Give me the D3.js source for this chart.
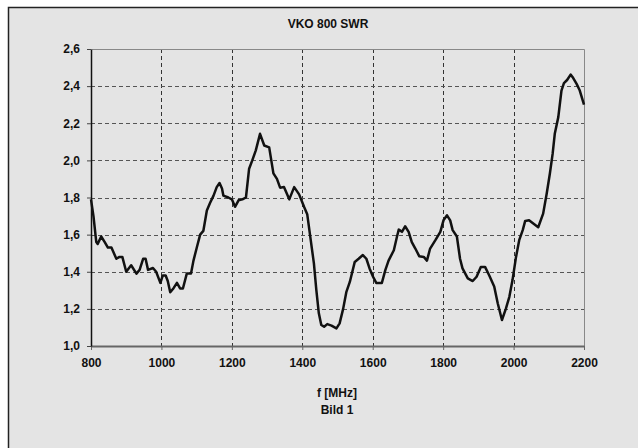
<!DOCTYPE html>
<html>
<head>
<meta charset="utf-8">
<script src="https://cdn.jsdelivr.net/npm/d3@7"></script>
<style>
  body { margin: 0; background: #fff; }
  text { font-family: "Liberation Sans", Arial, sans-serif; font-weight: bold; fill: #111; }
</style>
</head>
<body>
<div class="chart"></div>
<script>
// VKO 800 SWR chart

var freq = [800, 807, 815, 819, 829, 839, 848, 858, 872, 881, 889, 900, 914, 929, 938, 948, 955, 962, 976, 985,
    997, 1004, 1012, 1018, 1025, 1034, 1044, 1053, 1061, 1072, 1084, 1091, 1101, 1110, 1119, 1129, 1138, 1148, 1157, 1165,
    1172, 1176, 1190, 1200, 1209, 1219, 1230, 1240, 1249, 1258, 1268, 1280, 1292, 1306, 1318, 1328, 1337, 1348, 1363, 1377,
    1391, 1405, 1414, 1424, 1433, 1440, 1447, 1454, 1462, 1471, 1483, 1497, 1506, 1516, 1525, 1535, 1549, 1560, 1572, 1582,
    1591, 1601, 1610, 1626, 1636, 1645, 1660, 1669, 1674, 1683, 1692, 1702, 1711, 1721, 1732, 1745, 1754, 1763, 1778, 1792,
    1801, 1811, 1820, 1827, 1839, 1848, 1855, 1870, 1884, 1895, 1907, 1919, 1931, 1945, 1955, 1967, 1978, 1988, 1997, 2007,
    2016, 2026, 2033, 2044, 2056, 2070, 2084, 2094, 2103, 2111, 2117, 2127, 2136, 2143, 2152, 2162, 2169, 2179, 2188, 2200];

var swr = [1.79, 1.70, 1.56, 1.55, 1.59, 1.56, 1.53, 1.53, 1.47, 1.48, 1.48, 1.40, 1.435, 1.39, 1.41, 1.47, 1.47, 1.41, 1.42, 1.40,
    1.34, 1.38, 1.38, 1.35, 1.29, 1.31, 1.34, 1.31, 1.31, 1.39, 1.39, 1.46, 1.535, 1.60, 1.62, 1.73, 1.77, 1.81, 1.856, 1.878,
    1.848, 1.81, 1.80, 1.79, 1.75, 1.785, 1.79, 1.80, 1.955, 2.0, 2.054, 2.143, 2.08, 2.07, 1.93, 1.90, 1.853, 1.856, 1.79, 1.856,
    1.817, 1.75, 1.71, 1.57, 1.445, 1.30, 1.176, 1.113, 1.104, 1.118, 1.11, 1.095, 1.122, 1.20, 1.29, 1.345, 1.453, 1.47, 1.49, 1.47,
    1.418, 1.373, 1.34, 1.34, 1.41, 1.46, 1.516, 1.59, 1.627, 1.615, 1.645, 1.615, 1.56, 1.525, 1.484, 1.48, 1.46, 1.525, 1.57, 1.615,
    1.677, 1.704, 1.677, 1.624, 1.59, 1.47, 1.418, 1.364, 1.35, 1.373, 1.426, 1.426, 1.38, 1.32, 1.23, 1.14, 1.20, 1.265, 1.355, 1.48,
    1.57, 1.624, 1.674, 1.677, 1.66, 1.64, 1.713, 1.82, 1.928, 2.036, 2.143, 2.233, 2.376, 2.416, 2.433, 2.462, 2.445, 2.412, 2.376, 2.30];

var xTicks = [800, 1000, 1200, 1400, 1600, 1800, 2000, 2200];
var yTicks = [1.0, 1.2, 1.4, 1.6, 1.8, 2.0, 2.2, 2.4, 2.6];

var svgWidth = 638;
var svgHeight = 448;

var margin = { top: 49, right: 54, bottom: 102, left: 91 };
var width = svgWidth - margin.left - margin.right;
var height = svgHeight - margin.top - margin.bottom;

var svg = d3.select(".chart")
    .append("svg")
    .attr("width", svgWidth)
    .attr("height", svgHeight);

// outer frame (runs off the right and bottom edge)
svg.append("rect")
    .attr("x", 8.5)
    .attr("y", 7.5)
    .attr("width", 640)
    .attr("height", 450)
    .attr("fill", "#e4e4e4")
    .attr("stroke", "#222")
    .attr("stroke-width", 1.5);

var chart = svg.append("g")
    .attr("transform", "translate(" + margin.left + "," + margin.top + ")");

var xScale = d3.scaleLinear().domain([800, 2200]).range([0, width]);
var yScale = d3.scaleLinear().domain([1.0, 2.6]).range([height, 0]);

// grid lines
chart.selectAll(".vgrid")
    .data(xTicks.slice(1, -1))
    .enter()
    .append("line")
    .attr("x1", function(d) { return Math.round(xScale(d)) + 0.5; })
    .attr("x2", function(d) { return Math.round(xScale(d)) + 0.5; })
    .attr("y1", 0)
    .attr("y2", height)
    .attr("stroke", "#333")
    .attr("stroke-dasharray", "4,3");

chart.selectAll(".hgrid")
    .data(yTicks.slice(1, -1))
    .enter()
    .append("line")
    .attr("x1", 0)
    .attr("x2", width)
    .attr("y1", function(d) { return Math.round(yScale(d)) + 0.5; })
    .attr("y2", function(d) { return Math.round(yScale(d)) + 0.5; })
    .attr("stroke", "#555")
    .attr("stroke-dasharray", "4,3");

// top and right border of the plot area
chart.append("path")
    .attr("d", "M0.5,0.5H" + (width + 0.5) + "V" + height)
    .attr("fill", "none")
    .attr("stroke", "#888");

var bottomAxis = d3.axisBottom(xScale)
    .tickValues(xTicks)
    .tickSizeInner(4)
    .tickSizeOuter(0)
    .tickPadding(8)
    .tickFormat(d3.format("d"));

var leftAxis = d3.axisLeft(yScale)
    .tickValues(yTicks)
    .tickSizeInner(4)
    .tickSizeOuter(0)
    .tickPadding(7)
    .tickFormat(function(d) { return d3.format(".1f")(d).replace(".", ","); });

var gx = chart.append("g")
    .attr("transform", "translate(0," + height + ")")
    .call(bottomAxis);
gx.select(".domain").attr("stroke", "#666").attr("stroke-width", 2);
gx.selectAll(".tick line").attr("stroke", "#666");
gx.selectAll("text").attr("font-size", 12).attr("fill", "#111");

var gy = chart.append("g")
    .call(leftAxis);
gy.select(".domain").attr("stroke", "#111").attr("stroke-width", 1.5);
gy.selectAll(".tick line").attr("stroke", "#444");
gy.selectAll("text").attr("font-size", 12).attr("fill", "#111");

gx.selectAll("text, line, path").attr("font-family", null);
gy.selectAll("text").attr("font-family", null);
gx.attr("font-family", null);
gy.attr("font-family", null);

// SWR curve
var points = freq.map(function(f, i) { return [f, swr[i]]; });

var line = d3.line()
    .x(function(d) { return xScale(d[0]); })
    .y(function(d) { return yScale(d[1]); });

chart.append("path")
    .datum(points)
    .attr("d", line)
    .attr("fill", "none")
    .attr("stroke", "#111")
    .attr("stroke-width", 2.5)
    .attr("stroke-linejoin", "round");

// titles
svg.append("text")
    .attr("x", 328)
    .attr("y", 28)
    .attr("text-anchor", "middle")
    .attr("font-size", 12)
    .text("VKO 800 SWR");

svg.append("text")
    .attr("x", 337)
    .attr("y", 397)
    .attr("text-anchor", "middle")
    .attr("font-size", 12)
    .text("f [MHz]");

svg.append("text")
    .attr("x", 337)
    .attr("y", 414)
    .attr("text-anchor", "middle")
    .attr("font-size", 12)
    .text("Bild 1");
</script>
</body>
</html>
